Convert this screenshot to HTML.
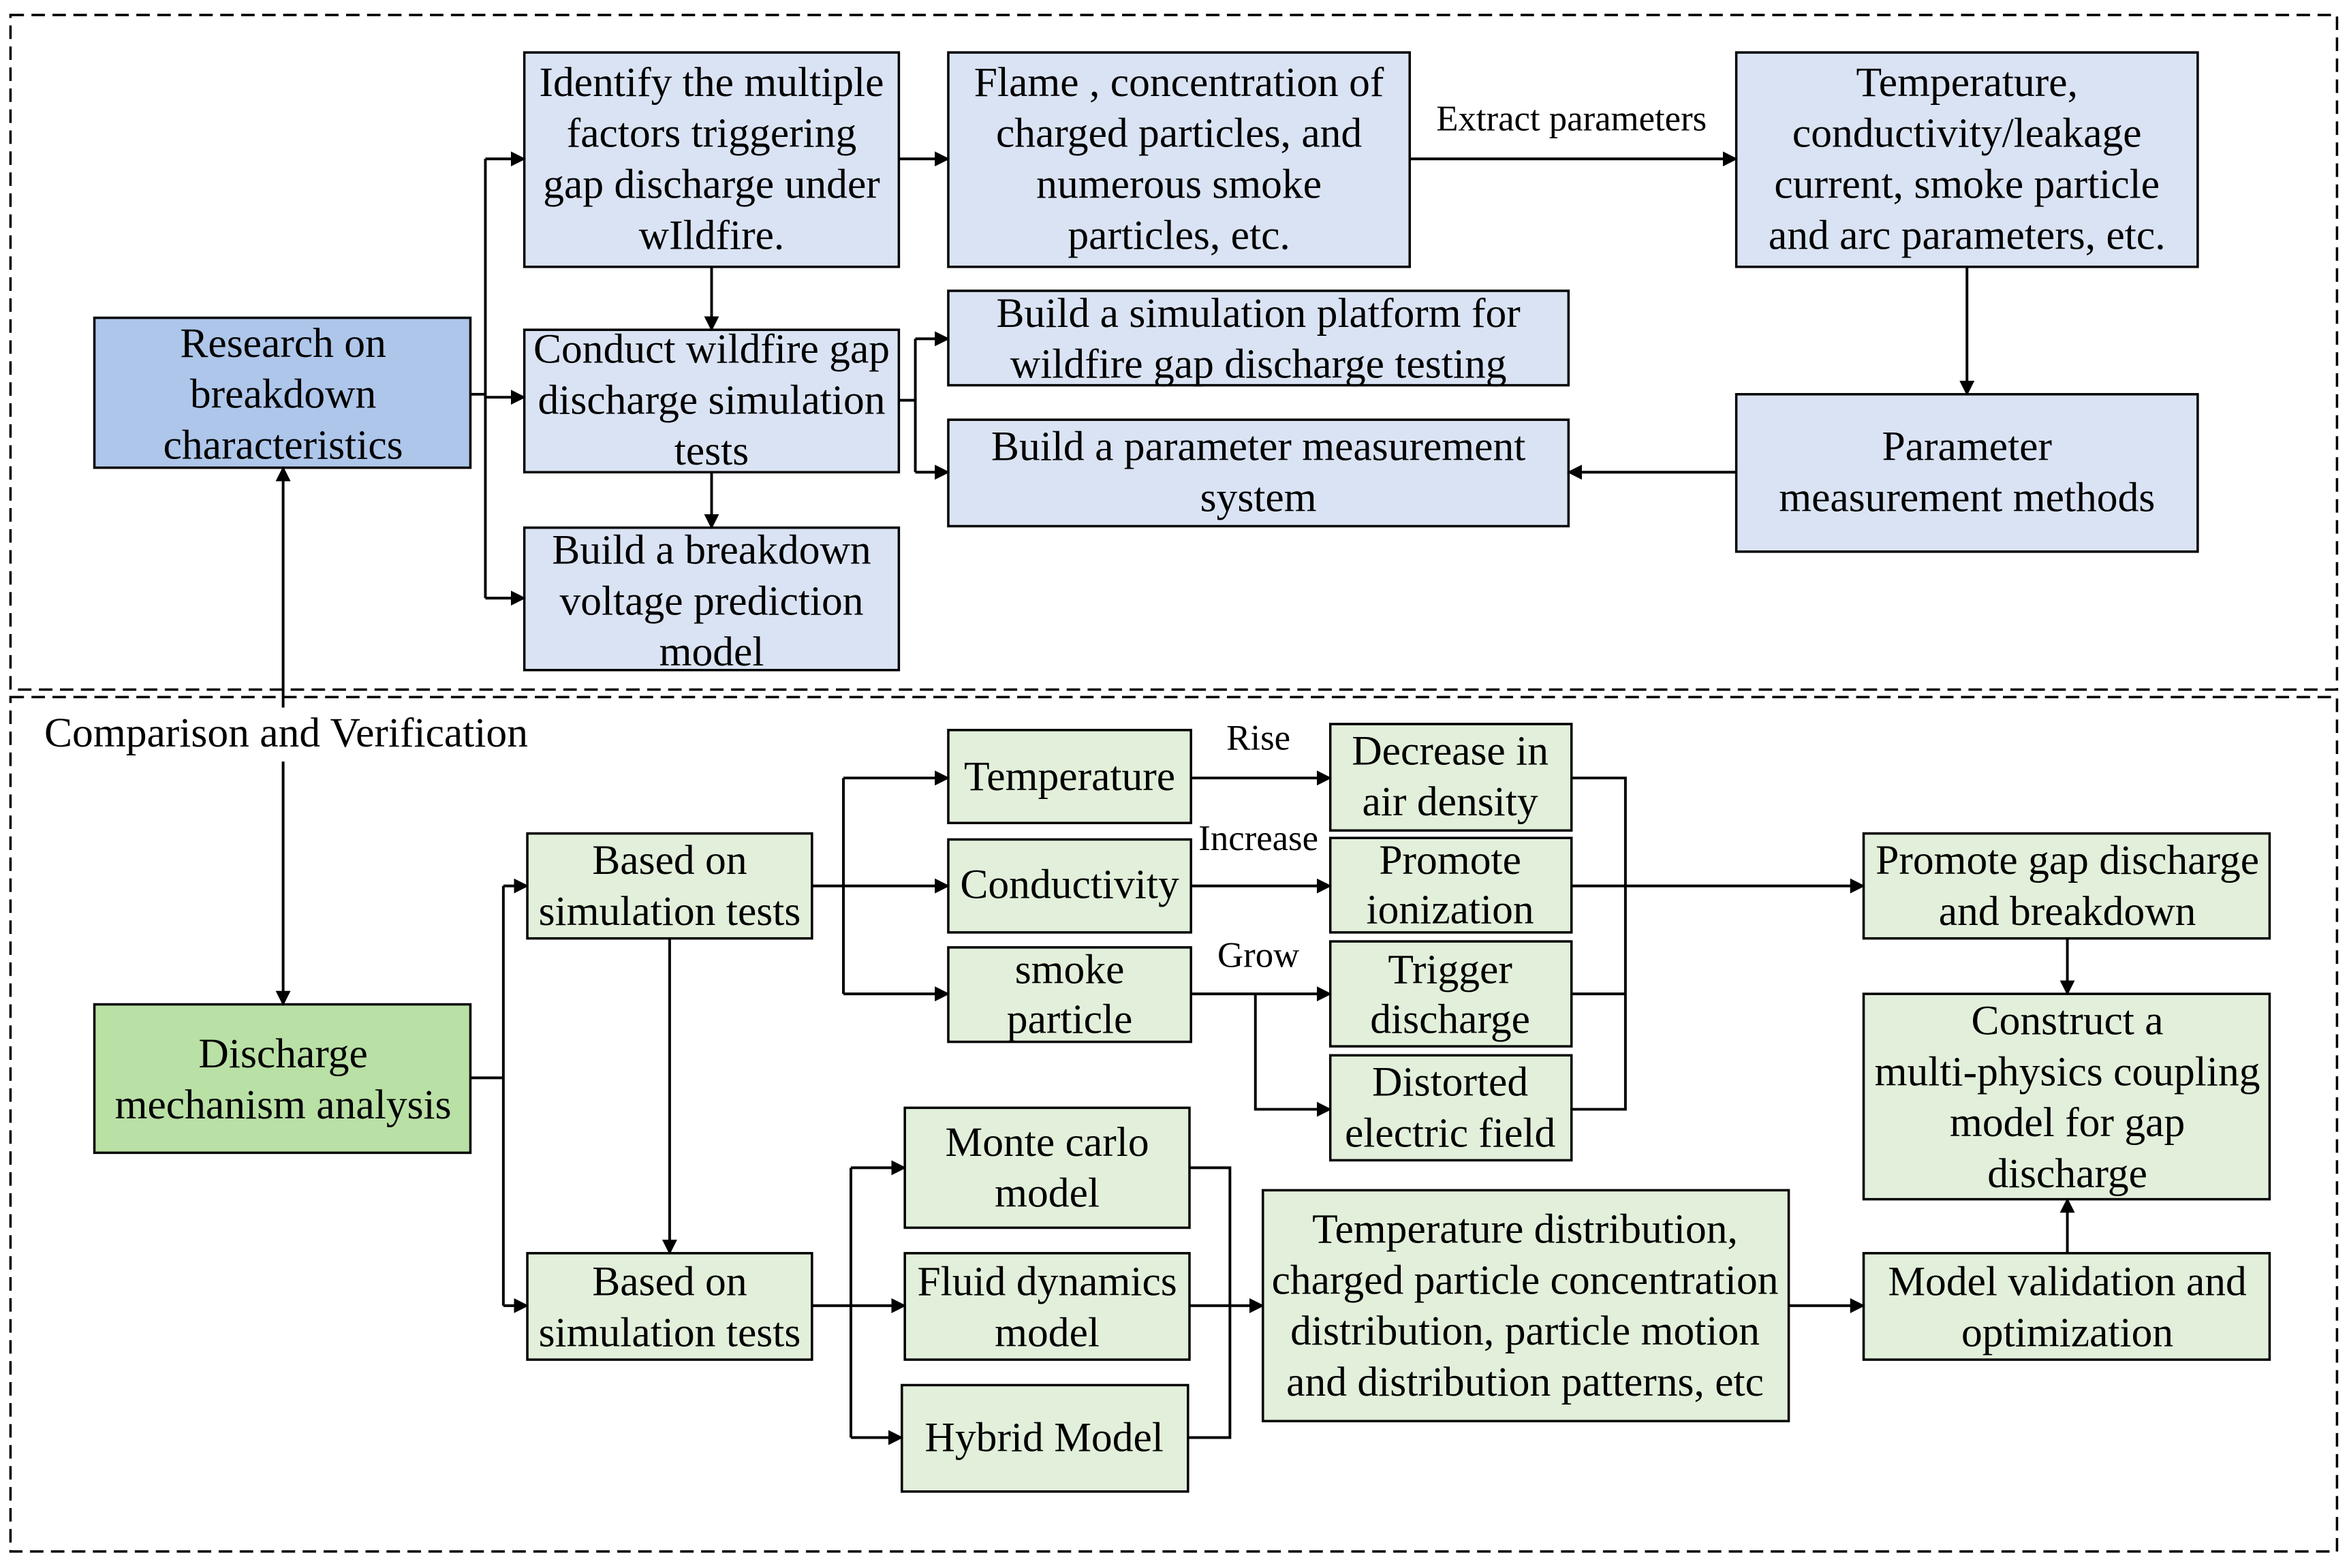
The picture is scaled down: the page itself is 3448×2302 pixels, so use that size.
<!DOCTYPE html>
<html><head><meta charset="utf-8">
<style>
html,body{margin:0;padding:0;background:#fff;}
svg{display:block;}
text{font-family:"Liberation Serif",serif;font-size:28px;fill:#000;text-anchor:middle;}
.s{font-size:24px;}
.b{stroke:#000;stroke-width:1.6;}
.l{stroke:#000;stroke-width:1.8;fill:none;}
</style></head><body>
<svg width="3448" height="2302" viewBox="0 0 1568 1046" preserveAspectRatio="none" xmlns="http://www.w3.org/2000/svg">
<defs><marker id="a" markerWidth="10" markerHeight="10" refX="9" refY="5" orient="auto" markerUnits="userSpaceOnUse"><path d="M0,0 L10,5 L0,10 z" fill="#000"/></marker></defs>
<rect x="7" y="10" width="1553" height="450" fill="none" stroke="#000" stroke-width="1.6" stroke-dasharray="9,5"/>
<rect x="7" y="465" width="1553" height="570" fill="none" stroke="#000" stroke-width="1.6" stroke-dasharray="9,5"/>

<g class="b" fill="#dae3f3">
<rect x="63" y="212" width="251" height="100" fill="#aec6ea"/>
<rect x="350" y="35" width="250" height="143"/>
<rect x="633" y="35" width="308" height="143"/>
<rect x="1159" y="35" width="308" height="143"/>
<rect x="350" y="220" width="250" height="95"/>
<rect x="633" y="194" width="414" height="63"/>
<rect x="633" y="280" width="414" height="71"/>
<rect x="1159" y="263" width="308" height="105"/>
<rect x="350" y="352" width="250" height="95"/>
</g>
<g class="b" fill="#e2efda">
<rect x="63" y="670" width="251" height="99" fill="#b9e0a5"/>
<rect x="352" y="556" width="190" height="70"/>
<rect x="352" y="836" width="190" height="71"/>
<rect x="633" y="487" width="162" height="62"/>
<rect x="633" y="560" width="162" height="62"/>
<rect x="633" y="632" width="162" height="63"/>
<rect x="888" y="483" width="161" height="71"/>
<rect x="888" y="559" width="161" height="63"/>
<rect x="888" y="628" width="161" height="70"/>
<rect x="888" y="704" width="161" height="70"/>
<rect x="1244" y="556" width="271" height="70"/>
<rect x="1244" y="663" width="271" height="137"/>
<rect x="1244" y="836" width="271" height="71"/>
<rect x="604" y="739" width="190" height="80"/>
<rect x="604" y="836" width="190" height="71"/>
<rect x="602" y="924" width="191" height="71"/>
<rect x="843" y="794" width="351" height="154"/>
</g>

<path class="l" d="M314,263 H324 M324,106 V399"/>
<path class="l" d="M324,106 H350" marker-end="url(#a)"/>
<path class="l" d="M324,265 H350" marker-end="url(#a)"/>
<path class="l" d="M324,399 H350" marker-end="url(#a)"/>
<path class="l" d="M475,178 V220" marker-end="url(#a)"/>
<path class="l" d="M475,315 V352" marker-end="url(#a)"/>
<path class="l" d="M600,106 H633" marker-end="url(#a)"/>
<path class="l" d="M941,106 H1159" marker-end="url(#a)"/>
<path class="l" d="M1313,178 V263" marker-end="url(#a)"/>
<path class="l" d="M1159,315 H1047" marker-end="url(#a)"/>
<path class="l" d="M600,267 H611 M611,226 V315"/>
<path class="l" d="M611,226 H633" marker-end="url(#a)"/>
<path class="l" d="M611,315 H633" marker-end="url(#a)"/>
<path class="l" d="M189,490 V312" marker-end="url(#a)"/>
<path class="l" d="M189,490 V670" marker-end="url(#a)"/>
<rect x="22" y="472" width="340" height="36" fill="#fff"/>

<path class="l" d="M314,719 H336 M336,591 V871"/>
<path class="l" d="M336,591 H352" marker-end="url(#a)"/>
<path class="l" d="M336,871 H352" marker-end="url(#a)"/>
<path class="l" d="M447,626 V836" marker-end="url(#a)"/>
<path class="l" d="M542,591 H563 M563,519 V663"/>
<path class="l" d="M563,519 H633" marker-end="url(#a)"/>
<path class="l" d="M563,591 H633" marker-end="url(#a)"/>
<path class="l" d="M563,663 H633" marker-end="url(#a)"/>
<path class="l" d="M795,519 H888" marker-end="url(#a)"/>
<path class="l" d="M795,591 H888" marker-end="url(#a)"/>
<path class="l" d="M795,663 H888" marker-end="url(#a)"/>
<path class="l" d="M838,663 V740 H888" marker-end="url(#a)"/>
<path class="l" d="M1049,519 H1085 V740 H1049 M1049,663 H1085"/>
<path class="l" d="M1049,591 H1244" marker-end="url(#a)"/>
<path class="l" d="M1380,626 V663" marker-end="url(#a)"/>
<path class="l" d="M1380,836 V800" marker-end="url(#a)"/>
<path class="l" d="M1194,871 H1244" marker-end="url(#a)"/>
<path class="l" d="M542,871 H568 M568,779 V959"/>
<path class="l" d="M568,779 H604" marker-end="url(#a)"/>
<path class="l" d="M568,871 H604" marker-end="url(#a)"/>
<path class="l" d="M568,959 H602" marker-end="url(#a)"/>
<path class="l" d="M794,779 H821 V959 H793 M794,871 H821"/>
<path class="l" d="M821,871 H843" marker-end="url(#a)"/>

<text x="189" y="238">Research on</text><text x="189" y="272">breakdown</text><text x="189" y="306">characteristics</text>
<text x="475" y="64">Identify the multiple</text><text x="475" y="98">factors  triggering</text><text x="475" y="132">gap discharge under</text><text x="475" y="166">wIldfire.</text>
<text x="787" y="64">Flame , concentration of</text><text x="787" y="98">charged particles, and</text><text x="787" y="132">numerous smoke</text><text x="787" y="166">particles, etc.</text>
<text x="1313" y="64">Temperature,</text><text x="1313" y="98">conductivity/leakage</text><text x="1313" y="132">current, smoke particle</text><text x="1313" y="166">and arc parameters, etc.</text>
<text class="s" x="1049" y="87">Extract parameters</text>
<text x="475" y="242">Conduct wildfire gap</text><text x="475" y="276">discharge simulation</text><text x="475" y="310">tests</text>
<text x="840" y="218">Build a simulation platform for</text><text x="840" y="252">wildfire gap discharge testing</text>
<text x="840" y="307">Build a parameter measurement</text><text x="840" y="341">system</text>
<text x="1313" y="307">Parameter</text><text x="1313" y="341">measurement methods</text>
<text x="475" y="376">Build a breakdown</text><text x="475" y="410">voltage prediction</text><text x="475" y="444">model</text>
<text x="191" y="498">Comparison and Verification</text>
<text x="189" y="712">Discharge</text><text x="189" y="746">mechanism analysis</text>
<text x="447" y="583">Based on</text><text x="447" y="617">simulation tests</text>
<text x="447" y="864">Based on</text><text x="447" y="898">simulation tests</text>
<text x="714" y="527">Temperature</text>
<text x="714" y="599">Conductivity</text>
<text x="714" y="656">smoke</text><text x="714" y="689">particle</text>
<text class="s" x="840" y="500">Rise</text>
<text class="s" x="840" y="567">Increase</text>
<text class="s" x="840" y="645">Grow</text>
<text x="968" y="510">Decrease in</text><text x="968" y="544">air density</text>
<text x="968" y="583">Promote</text><text x="968" y="616">ionization</text>
<text x="968" y="656">Trigger</text><text x="968" y="689">discharge</text>
<text x="968" y="731">Distorted</text><text x="968" y="765">electric field</text>
<text x="1380" y="583">Promote gap discharge</text><text x="1380" y="617">and breakdown</text>
<text x="1380" y="690">Construct a</text><text x="1380" y="724">multi-physics coupling</text><text x="1380" y="758">model for gap</text><text x="1380" y="792">discharge</text>
<text x="1380" y="864">Model validation and</text><text x="1380" y="898">optimization</text>
<text x="699" y="771">Monte carlo</text><text x="699" y="805">model</text>
<text x="699" y="864">Fluid dynamics</text><text x="699" y="898">model</text>
<text x="697" y="968">Hybrid Model</text>
<text x="1018" y="829">Temperature distribution,</text><text x="1018" y="863">charged particle concentration</text><text x="1018" y="897">distribution, particle motion</text><text x="1018" y="931">and distribution patterns, etc</text>
</svg>
</body></html>
